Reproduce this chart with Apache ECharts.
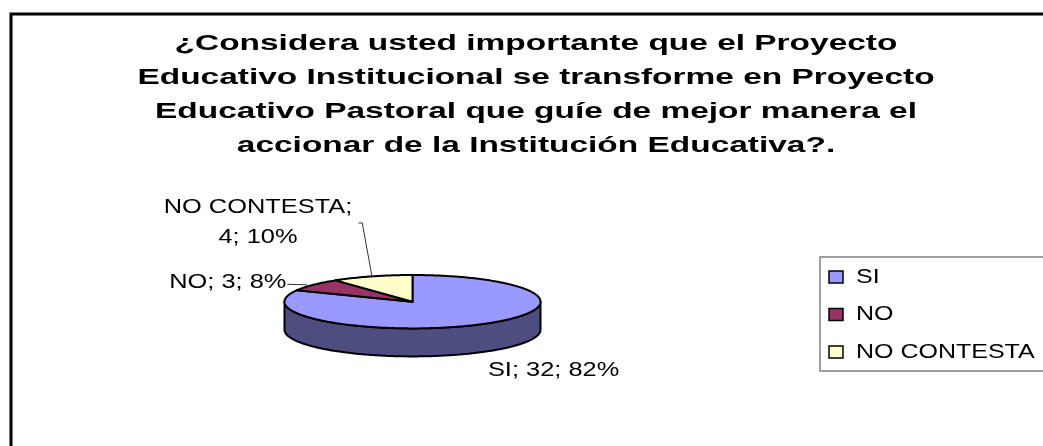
<!DOCTYPE html>
<html>
<head>
<meta charset="utf-8">
<title>Proyecto Educativo Pastoral</title>
<script src="https://cdn.jsdelivr.net/npm/echarts@6/dist/echarts.min.js"></script>
<style>
  html, body { margin: 0; padding: 0; background: #fff; }
  #chart { width: 1043px; height: 446px; }
</style>
</head>
<body>
<div id="chart"></div>
<script>
// datos
const titleText = '¿Considera usted importante que el Proyecto\nEducativo Institucional se transforme en Proyecto\nEducativo Pastoral que guíe de mejor manera el\naccionar de la Institución Educativa?.';
const categories = ['SI', 'NO', 'NO CONTESTA'];
const counts = [32, 3, 4];
const percents = [82, 8, 10];

// colores tipo Excel
const topColors = ['#9999FF', '#993366', '#FFFFCC'];
const sideColors = ['#4D4D80', '#4D1A33', '#808066'];

const total = counts.reduce((a, b) => a + b, 0);
const starts = [];
counts.reduce((acc, v) => { starts.push(acc); return acc + v; }, 0);

// geometria de la torta 3D
const cx = 412.5, cy = 301.7, rx = 128, ry = 26.7, depth = 28;
const labelFont = { fontFamily: 'Liberation Sans', fontSize: 20, fill: '#000' };
const stretch = 1.27;

// posicion de etiquetas relativa al punto medio de cada porcion
const labelLayout = [
  { onSide: true, dx: 7, dy: 18, align: 'left', leader: null },
  { onSide: false, dx: -27, dy: -2.8, align: 'right', leader: [[-6, 0], [-26, -0.5]] },
  { onSide: false, dx: -114, dy: -54, align: 'center', wrap: true, leader: [[0, 0], [-9.7, -53.4], [-13.4, -53.4]] }
];

function pt(theta, dz) {
  return [cx + rx * Math.sin(theta), cy - ry * Math.cos(theta) + dz];
}

function arc(a, b, dz) {
  const pts = [];
  const n = Math.max(2, Math.ceil(Math.abs(b - a) / (Math.PI / 180)));
  for (let k = 0; k <= n; k++) {
    pts.push(pt(a + (b - a) * k / n, dz));
  }
  return pts;
}

function renderSlice(params, api) {
  const i = params.dataIndex;
  const val = api.value(0);
  const start = api.value(1);
  const ts = start / total * Math.PI * 2;
  const te = (start + val) / total * Math.PI * 2;
  const children = [];

  // cara lateral frontal
  const a = Math.max(ts, Math.PI / 2);
  const b = Math.min(te, Math.PI * 1.5);
  if (a < b) {
    const pts = arc(a, b, 0).concat(arc(b, a, depth));
    children.push({
      type: 'polygon',
      z2: 1,
      shape: { points: pts },
      style: { fill: sideColors[i], stroke: '#000', lineWidth: 2, lineJoin: 'round' }
    });
  }

  // cara superior
  children.push({
    type: 'polygon',
    z2: 2,
    shape: { points: [[cx, cy]].concat(arc(ts, te, 0)) },
    style: { fill: topColors[i], stroke: '#000', lineWidth: 2, lineJoin: 'round' }
  });

  // etiqueta
  const lay = labelLayout[i];
  const mid = (ts + te) / 2;
  const anchor = pt(mid, lay.onSide ? depth : 0);
  const name = categories[i];
  const txt = lay.wrap
    ? name + ';\n' + counts[i] + '; ' + percents[i] + '%'
    : name + '; ' + counts[i] + '; ' + percents[i] + '%';

  if (lay.leader) {
    children.push({
      type: 'polyline',
      z2: 3,
      shape: { points: lay.leader.map(p => [anchor[0] + p[0], anchor[1] + p[1]]) },
      style: { stroke: '#333', lineWidth: 1, fill: null }
    });
  }
  children.push({
    type: 'text',
    z2: 4,
    x: anchor[0] + lay.dx,
    y: anchor[1] + lay.dy,
    scaleX: stretch,
    style: Object.assign({
      text: txt,
      align: lay.align,
      verticalAlign: 'middle',
      lineHeight: 29.5
    }, labelFont)
  });

  return { type: 'group', children: children };
}

// leyenda
const legendTop = 257, legendStep = 37.5;
const legendItems = [];
categories.forEach((name, i) => {
  const yc = legendTop + 20 + i * legendStep;
  legendItems.push({
    type: 'rect',
    shape: { x: 829, y: yc - 6, width: 14, height: 12 },
    style: { fill: topColors[i], stroke: '#000', lineWidth: 1.5 }
  });
  legendItems.push({
    type: 'text',
    x: 856,
    y: yc,
    scaleX: 1.25,
    style: Object.assign({ text: name, align: 'left', verticalAlign: 'middle' }, labelFont)
  });
});

const chart = echarts.init(document.getElementById('chart'), null, { renderer: 'canvas' });

chart.setOption({
  animation: false,
  backgroundColor: '#fff',
  graphic: [
    {
      type: 'rect',
      shape: { x: 11, y: 14, width: 1200, height: 600 },
      style: { fill: null, stroke: '#000', lineWidth: 3 }
    },
    {
      type: 'text',
      x: 536,
      y: 27,
      scaleX: 1.52,
      style: {
        text: titleText,
        align: 'center',
        verticalAlign: 'top',
        fontFamily: 'Liberation Sans',
        fontWeight: 'bold',
        fontSize: 22,
        lineHeight: 34,
        fill: '#000'
      }
    },
    {
      type: 'rect',
      shape: { x: 820, y: legendTop, width: 400, height: 114 },
      style: { fill: '#fff', stroke: '#808080', lineWidth: 1.5 }
    },
    { type: 'group', children: legendItems }
  ],
  series: [
    {
      type: 'custom',
      name: 'Respuestas',
      coordinateSystem: 'none',
      data: categories.map((name, i) => ({ name: name, value: [counts[i], starts[i]] })),
      renderItem: renderSlice
    }
  ]
});
</script>
</body>
</html>
